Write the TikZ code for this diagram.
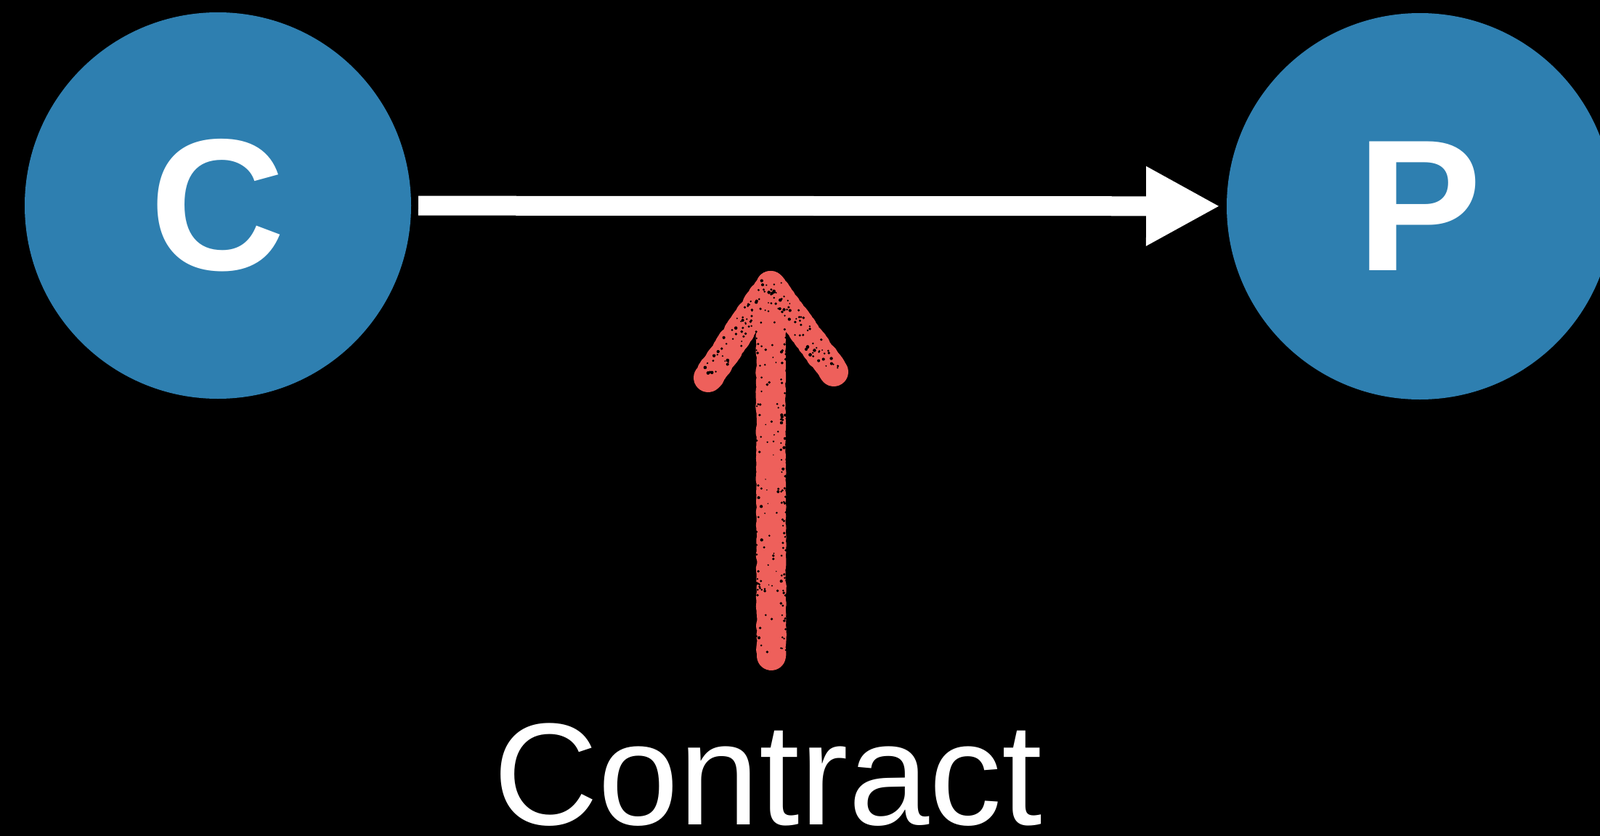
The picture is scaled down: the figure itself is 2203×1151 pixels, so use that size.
\documentclass[tikz,border=0pt]{standalone}
\usepackage{fontspec}
\setmainfont{Liberation Sans}
\usetikzlibrary{arrows.meta,decorations.pathmorphing,calc}
\definecolor{bluecirc}{RGB}{46,127,176}
\definecolor{chalkred}{RGB}{238,96,91}
\tikzset{
  party/.style={circle, fill=bluecirc, minimum size=532pt, inner sep=0pt, outer sep=0pt,
    text=white, font=\fontsize{258}{258}\selectfont\bfseries},
  flowarrow/.style={draw=white, line width=27pt, -{Triangle[length=102pt, width=102pt]},
    shorten <=10pt, shorten >=9pt},
  chalk/.style={draw=chalkred, line width=40pt, line cap=round, line join=round,
    decorate, decoration={random steps, segment length=3pt, amplitude=1pt}},
  speck/.style={fill=black},
  biglabel/.style={text=white, font=\fontsize{200}{200}\selectfont, inner sep=0pt, anchor=base}
}
\begin{document}
\begin{tikzpicture}[x=1pt,y=-1pt]
  \fill[black] (0,0) rectangle (2203,1151);
  \useasboundingbox (0,0) rectangle (2203,1151);
  \node[party] (C) at (300,283) {C};
  \node[party] (P) at (1955,284) {P};
  \draw[flowarrow] (C) -- (P);
  \node[biglabel] (contract) at (1057,1135) {Contract};
  \coordinate (redbottom) at (1062,903);
  \coordinate (redapex) at (1061,393);
  \coordinate (redleft) at (975,520);
  \coordinate (redright) at (1148,512);
  \draw[chalk] (redbottom) -- (redapex);
  \draw[chalk] (redleft) -- (redapex) -- (redright);
  % chalk texture specks
  \pgfmathsetseed{11}
  \foreach \i in {1,...,110}{
    \pgfmathsetmacro\yy{655+245*rand}
    \pgfmathsetmacro\xx{1062+(17+4*rand)*(rand<0?-1:1)}
    \pgfmathsetmacro\rr{1.2+1*rnd}
    \fill[speck] (\xx,\yy) circle[radius=\rr];
  }
  \foreach \i in {1,...,40}{
    \pgfmathsetmacro\yy{660+240*rand}
    \pgfmathsetmacro\xx{1062+10*rand}
    \pgfmathsetmacro\rr{0.8+1.2*rnd}
    \fill[speck] (\xx,\yy) circle[radius=\rr];
  }
  \foreach \i in {1,...,60}{
    \pgfmathsetmacro\ta{rnd}
    \pgfmathsetmacro\sa{14*rand}
    \pgfmathsetmacro\rr{1+1.4*rnd}
    \fill[speck] ($(redapex)!\ta!(redleft)+(0.81*\sa,0.59*\sa)$) circle[radius=\rr];
    \pgfmathsetmacro\ta{rnd}
    \pgfmathsetmacro\sa{14*rand}
    \fill[speck] ($(redapex)!\ta!(redright)+(-0.84*\sa,0.55*\sa)$) circle[radius=\rr];
  }
\end{tikzpicture}
\end{document}
